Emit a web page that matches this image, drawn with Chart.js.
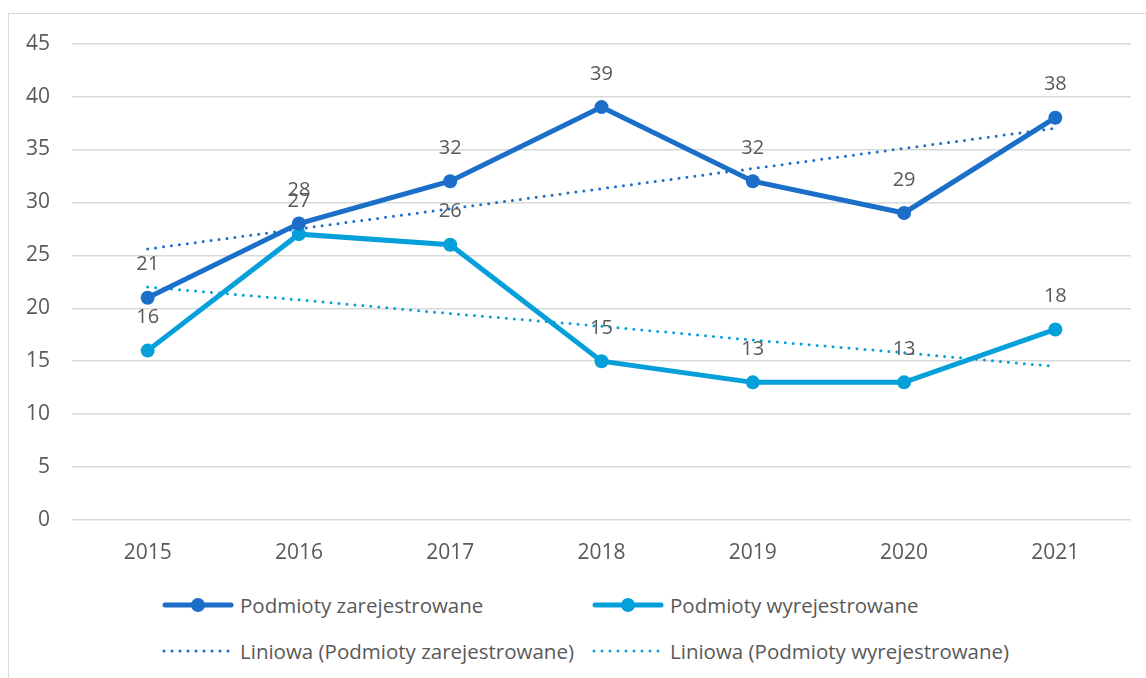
<!DOCTYPE html>
<html>
<head>
<meta charset="utf-8">
<script src="https://cdn.jsdelivr.net/npm/chart.js@4"></script>
<style>
  body { margin: 0; background: #fff; font-family: 'Open Sans', sans-serif; }
  #frame { position: absolute; left: 8px; top: 13px; width: 1200px; height: 700px; border: 1px solid #d9d9d9; box-sizing: border-box; }
  #wrap { position: absolute; left: 8px; top: 9px; width: 1138px; height: 564px; }
  .leg { position: absolute; display: flex; align-items: center; font-size: 20.5px; color: #595959; white-space: nowrap; }
  .leg canvas { margin-right: 6px; }
</style>
</head>
<body>
<div id="frame"></div>
<div id="wrap"><canvas id="chart"></canvas></div>
<div id="legend"></div>
<script>
  const years = ['2015', '2016', '2017', '2018', '2019', '2020', '2021'];
  const registered = [21, 28, 32, 39, 32, 29, 38];
  const deregistered = [16, 27, 26, 15, 13, 13, 18];
  // trend lines
  const registeredTrend = [25.6, 27.5, 29.4, 31.3, 33.2, 35.1, 37.0];
  const deregisteredTrend = [22.0, 20.8, 19.5, 18.3, 17.0, 15.8, 14.5];
  const yTicks = [0, 5, 10, 15, 20, 25, 30, 35, 40, 45];

  const darkBlue = '#1B6FC8';
  const lightBlue = '#05A0DA';
  const textGray = '#595959';

  // value labels above the two main series
  const valueLabels = {
    id: 'valueLabels',
    afterDatasetsDraw(chart) {
      const ctx = chart.ctx;
      ctx.save();
      ctx.font = '20px "Open Sans"';
      ctx.fillStyle = textGray;
      ctx.textAlign = 'center';
      ctx.textBaseline = 'middle';
      [0, 1].forEach(i => {
        const meta = chart.getDatasetMeta(i);
        meta.data.forEach((pt, j) => {
          ctx.fillText(chart.data.datasets[i].data[j], pt.x, pt.y - 33);
        });
      });
      ctx.restore();
    }
  };

  new Chart(document.getElementById('chart'), {
    type: 'line',
    data: {
      labels: years,
      datasets: [
        { label: 'Podmioty zarejestrowane', data: registered, borderColor: darkBlue, backgroundColor: darkBlue,
          borderWidth: 5, pointRadius: 7, pointBorderWidth: 0, order: 0 },
        { label: 'Podmioty wyrejestrowane', data: deregistered, borderColor: lightBlue, backgroundColor: lightBlue,
          borderWidth: 5, pointRadius: 7, pointBorderWidth: 0, order: 1 },
        { label: 'Liniowa (Podmioty zarejestrowane)', data: registeredTrend, borderColor: darkBlue,
          borderWidth: 3, borderDash: [0, 8], borderCapStyle: 'round', pointRadius: 0, order: 2 },
        { label: 'Liniowa (Podmioty wyrejestrowane)', data: deregisteredTrend, borderColor: lightBlue,
          borderWidth: 3, borderDash: [0, 8], borderCapStyle: 'round', pointRadius: 0, order: 3 }
      ]
    },
    options: {
      responsive: true,
      maintainAspectRatio: false,
      animation: false,
      layout: { padding: { top: 25, right: 15, bottom: 0, left: 0 } },
      plugins: { legend: { display: false }, tooltip: { enabled: false } },
      scales: {
        x: {
          offset: true,
          grid: { display: false },
          border: { display: false },
          ticks: { color: textGray, font: { size: 21, family: 'Open Sans' }, padding: 12, maxRotation: 0 },
          afterFit: s => { s.height = 53; }
        },
        y: {
          min: 0, max: 45,
          afterBuildTicks: s => { s.ticks = yTicks.map(v => ({ value: v })); },
          grid: { color: '#d9d9d9', lineWidth: 1.5, drawTicks: false },
          border: { display: false },
          ticks: { color: textGray, font: { size: 21, family: 'Open Sans' }, padding: 22 },
          afterFit: s => { s.width = 64; }
        }
      }
    },
    plugins: [valueLabels]
  });

  // legend in two columns, like the original
  const legendItems = [
    { text: 'Podmioty zarejestrowane', color: darkBlue, dotted: false, x: 162, y: 605 },
    { text: 'Podmioty wyrejestrowane', color: lightBlue, dotted: false, x: 592, y: 605 },
    { text: 'Liniowa (Podmioty zarejestrowane)', color: darkBlue, dotted: true, x: 162, y: 651 },
    { text: 'Liniowa (Podmioty wyrejestrowane)', color: lightBlue, dotted: true, x: 592, y: 651 }
  ];
  const legend = document.getElementById('legend');
  legendItems.forEach(item => {
    const div = document.createElement('div');
    div.className = 'leg';
    div.style.left = item.x + 'px';
    div.style.top = (item.y - 14) + 'px';
    div.style.height = '28px';
    const c = document.createElement('canvas');
    c.width = 72; c.height = 18;
    const g = c.getContext('2d');
    g.strokeStyle = item.color;
    g.fillStyle = item.color;
    g.lineCap = 'round';
    if (item.dotted) {
      g.lineWidth = 3;
      g.setLineDash([0, 8]);
      g.beginPath(); g.moveTo(2, 9); g.lineTo(70, 9); g.stroke();
    } else {
      g.lineWidth = 5;
      g.beginPath(); g.moveTo(3, 9); g.lineTo(69, 9); g.stroke();
      g.beginPath(); g.arc(36, 9, 7, 0, Math.PI * 2); g.fill();
    }
    div.appendChild(c);
    const span = document.createElement('span');
    span.textContent = item.text;
    div.appendChild(span);
    legend.appendChild(div);
  });
</script>
</body>
</html>
